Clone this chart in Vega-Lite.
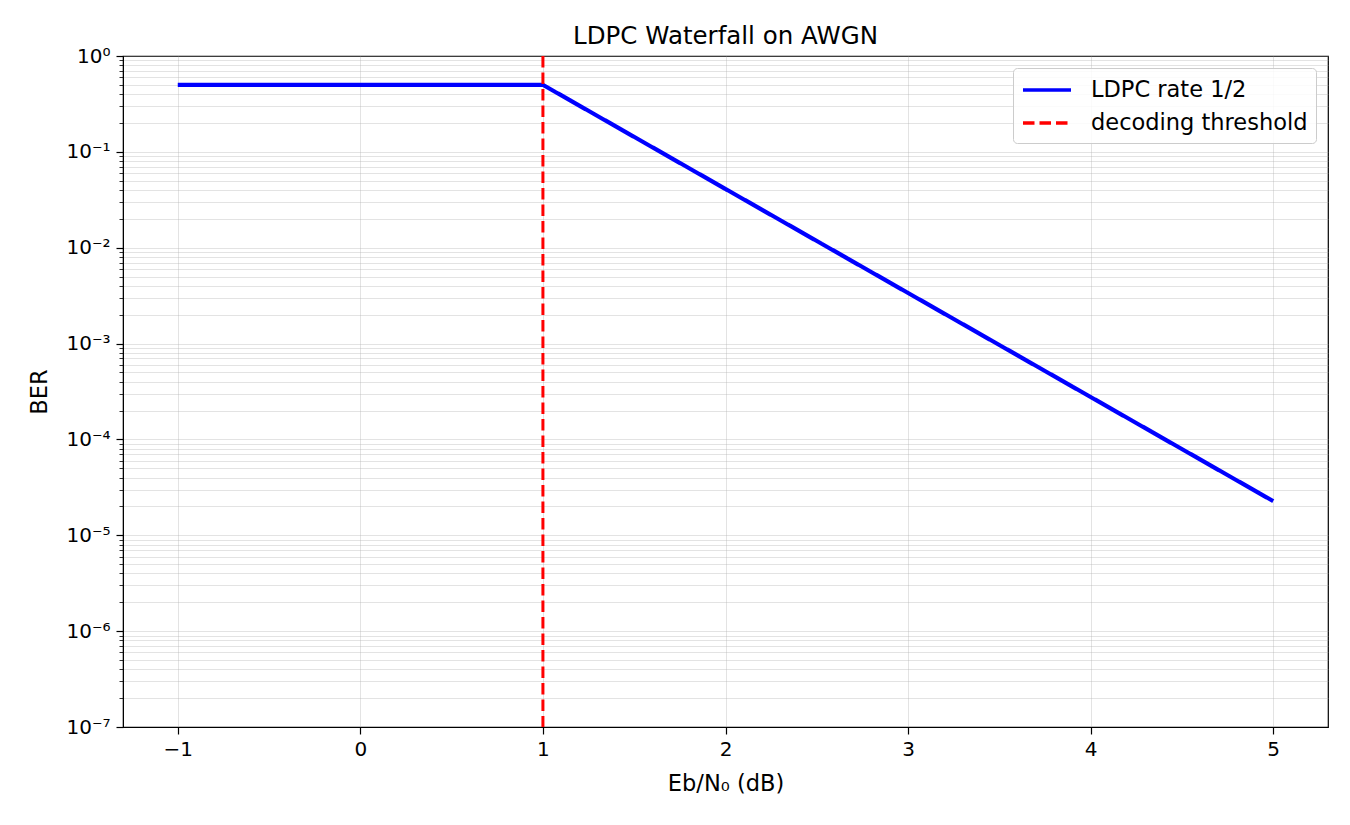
{
  "$schema": "https://vega.github.io/schema/vega-lite/v6.json",
  "width": 1205,
  "height": 671,
  "autosize": "none",
  "padding": {"left": 123, "top": 56, "right": 22, "bottom": 98},
  "background": "white",
  "title": {"text": "LDPC Waterfall on AWGN", "font": "DejaVu Sans", "fontSize": 24.5, "fontWeight": "normal", "color": "black", "offset": -3, "anchor": "middle"},
  "config": {
    "font": "DejaVu Sans",
    "view": {"stroke": "black", "strokeWidth": 1.2},
    "axis": {"domainColor": "black", "tickColor": "black", "labelColor": "black", "titleColor": "black", "labelFont": "DejaVu Sans", "titleFont": "DejaVu Sans", "labelFontSize": 20, "titleFontSize": 22.5, "titleFontWeight": "normal", "gridColor": "#b0b0b0", "gridOpacity": 0.35, "gridWidth": 1}
  },
  "layer": [
    {
      "data": {"values": [
        {"snr": -1, "ber": 0.5, "series": "LDPC rate 1/2"},
        {"snr": 1, "ber": 0.5, "series": "LDPC rate 1/2"},
        {"snr": 2, "ber": 0.041, "series": "LDPC rate 1/2"},
        {"snr": 3, "ber": 0.00337, "series": "LDPC rate 1/2"},
        {"snr": 4, "ber": 0.000277, "series": "LDPC rate 1/2"},
        {"snr": 5, "ber": 0.0000227, "series": "LDPC rate 1/2"}
      ]},
      "mark": {"type": "line", "clip": true, "strokeWidth": 4.2},
      "encoding": {
        "x": {"field": "snr", "type": "quantitative", "scale": {"domain": [-1.3, 5.3], "nice": false, "zero": false},
          "axis": {"title": "Eb/N₀ (dB)", "values": [-1, 0, 1, 2, 3, 4, 5], "format": "d", "grid": true, "tickSize": 7, "tickWidth": 1.2, "labelPadding": 5, "titlePadding": 13, "labelFontSize": 20, "titleFontSize": 22.5}},
        "y": {"field": "ber", "type": "quantitative", "scale": {"type": "log", "domain": [1e-7, 1], "nice": false},
          "axis": {"title": "BER", "titlePadding": 14, "grid": true, "labelOverlap": false, "labelPadding": 6, "labelFontSize": 20, "titleFontSize": 22.5,
            "values": [1e-7,2e-7,3e-7,4e-7,5e-7,6e-7,7e-7,8e-7,9e-7,1e-6,2e-6,3e-6,4e-6,5e-6,6e-6,7e-6,8e-6,9e-6,1e-5,2e-5,3e-5,4e-5,5e-5,6e-5,7e-5,8e-5,9e-5,1e-4,2e-4,3e-4,4e-4,5e-4,6e-4,7e-4,8e-4,9e-4,1e-3,2e-3,3e-3,4e-3,5e-3,6e-3,7e-3,8e-3,9e-3,1e-2,2e-2,3e-2,4e-2,5e-2,6e-2,7e-2,8e-2,9e-2,0.1,0.2,0.3,0.4,0.5,0.6,0.7,0.8,0.9,1],
            "labelExpr": "abs(log(datum.value)/LN10 - round(log(datum.value)/LN10)) > 0.001 ? '' : '10' + (round(log(datum.value)/LN10) == 0 ? '⁰' : '⁻' + ['','¹','²','³','⁴','⁵','⁶','⁷'][-round(log(datum.value)/LN10)])",
            "tickSize": {"condition": {"test": "abs(log(datum.value)/LN10 - round(log(datum.value)/LN10)) < 0.001", "value": 7}, "value": 4},
            "tickWidth": {"condition": {"test": "abs(log(datum.value)/LN10 - round(log(datum.value)/LN10)) < 0.001", "value": 1.2}, "value": 0.8}}},
        "color": {"field": "series", "type": "nominal", "scale": {"domain": ["LDPC rate 1/2", "decoding threshold"], "range": ["#0000ff", "#ff0000"]},
          "legend": {"title": null, "orient": "top-right", "offset": 12, "symbolType": "M-1,0H3", "symbolSize": 576, "symbolStrokeWidth": 3.5, "symbolFillColor": "transparent", "labelFontSize": 22.5, "labelLimit": 400, "labelFont": "DejaVu Sans", "labelColor": "black", "fillColor": "rgba(255,255,255,0.85)", "strokeColor": "#cccccc", "cornerRadius": 4, "padding": 8, "rowPadding": 7, "labelOffset": 42}},
        "strokeDash": {"field": "series", "type": "nominal", "scale": {"domain": ["LDPC rate 1/2", "decoding threshold"], "range": [[1, 0], [11.5, 5]]}, "legend": null}
      }
    },
    {
      "data": {"values": [{"snr": 1, "series": "decoding threshold"}]},
      "mark": {"type": "rule", "strokeWidth": 3},
      "encoding": {
        "x": {"field": "snr", "type": "quantitative"},
        "color": {"field": "series", "type": "nominal"},
        "strokeDash": {"field": "series", "type": "nominal"}
      }
    }
  ]
}
